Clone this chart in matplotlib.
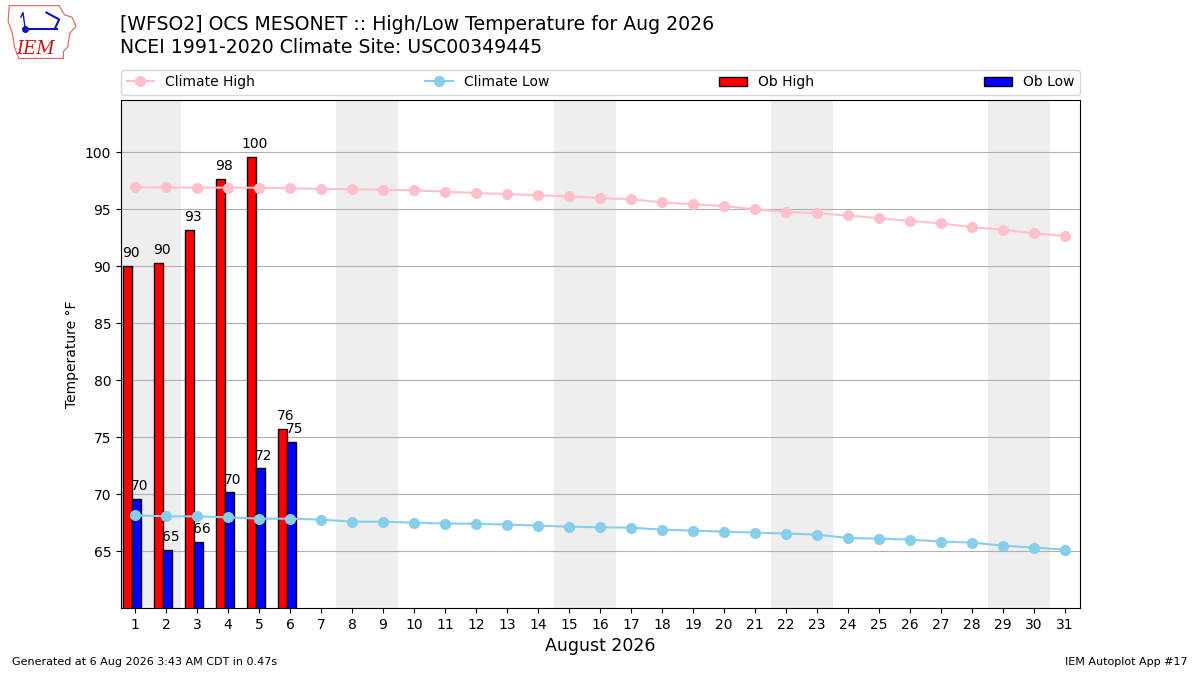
import numpy as np
import matplotlib
matplotlib.use("Agg")
import matplotlib.pyplot as plt
from matplotlib.patches import Polygon

days = list(range(1, 32))
ob_days = [1, 2, 3, 4, 5, 6]
ob_high = [90.06, 90.3, 93.2, 97.7, 99.6, 75.7]
ob_low = [69.6, 65.1, 65.8, 70.15, 72.25, 74.6]
high_labels = ["90", "90", "93", "98", "100", "76"]
low_labels = ["70", "65", "66", "70", "72", "75"]
clim_high = [96.93, 96.92, 96.91, 96.9, 96.9, 96.84, 96.8, 96.76, 96.72, 96.67,
             96.55, 96.43, 96.34, 96.23, 96.14, 95.99, 95.88, 95.61, 95.44, 95.29,
             95.0, 94.79, 94.65, 94.47, 94.21, 93.97, 93.77, 93.42, 93.21, 92.89, 92.66]
clim_low = [68.13, 68.05, 68.04, 67.96, 67.84, 67.84, 67.76, 67.58, 67.57, 67.49,
            67.41, 67.40, 67.32, 67.23, 67.14, 67.08, 67.05, 66.88, 66.79, 66.70,
            66.62, 66.53, 66.44, 66.14, 66.09, 66.0, 65.83, 65.74, 65.47, 65.30, 65.12]
weekend_starts = [1, 8, 15, 22, 29]
yticks = [65, 70, 75, 80, 85, 90, 95, 100]

fig = plt.figure(figsize=(12, 6.75), dpi=100)
ax = fig.add_axes([0.1008, 0.0993, 0.7992, 0.7526])

for d in weekend_starts:
    ax.axvspan(d - 0.5, d + 1.5, color="#eeeeee", zorder=0, lw=0)

od = np.array(ob_days, dtype=float)
ax.plot(days, clim_high, color="pink", marker="o", ms=7, lw=1.5, zorder=2,
        label="Climate High")
ax.plot(days, clim_low, color="skyblue", marker="o", ms=7, lw=1.5, zorder=2,
        label="Climate Low")
ax.bar(od - 0.25, ob_high, width=0.3, fc="r", ec="k", zorder=1, label="Ob High")
ax.bar(od + 0.05, ob_low, width=0.3, fc="b", ec="k", zorder=1, label="Ob Low")
for d, v, t in zip(od, ob_high, high_labels):
    ax.text(d - 0.13, v + 0.5, t, ha="center", va="bottom", fontsize=10, zorder=3)
for d, v, t in zip(od, ob_low, low_labels):
    ax.text(d + 0.16, v + 0.5, t, ha="center", va="bottom", fontsize=10, zorder=3)

ax.set_axisbelow(True)
ax.grid(axis="y", color="#b0b0b0", lw=0.8)
ax.set_xlim(0.55, 31.48)
ax.set_ylim(60.0, 104.6)
ax.set_xticks(days)
ax.set_yticks(yticks)
ax.tick_params(labelsize=10)
ax.set_xlabel("August 2026", fontsize=12.5)
ax.set_ylabel("Temperature °F", fontsize=10)

ax.legend(loc="lower left", bbox_to_anchor=(0, 1.01, 1, 0.05), mode="expand",
          ncol=4, fontsize=10, borderaxespad=0)

fig.text(0.1, 0.963, "[WFSO2] OCS MESONET :: High/Low Temperature for Aug 2026",
         fontsize=13.6, va="center", ha="left")
fig.text(0.1, 0.929, "NCEI 1991-2020 Climate Site: USC00349445",
         fontsize=13.6, va="center", ha="left")
fig.text(0.01, 0.015, "Generated at 6 Aug 2026 3:43 AM CDT in 0.47s", fontsize=8)
fig.text(0.99, 0.015, "IEM Autoplot App #17", fontsize=8, ha="right")

# simple IEM logo
lax = fig.add_axes([0.005, 0.91, 0.062, 0.085])
lax.set_xlim(0, 70)
lax.set_ylim(0, 50)
lax.axis("off")
iowa = [(3, 48), (50, 48), (55, 40), (62, 38), (66, 30), (60, 24), (58, 12),
        (54, 8), (54, 2), (12, 2), (8, 12), (6, 24), (2, 34), (3, 48)]
lax.add_patch(Polygon(iowa, closed=True, fill=False, ec="#e06060", lw=0.8))
lax.text(10, 6, "IEM", color="#cc1111", fontsize=13, family="DejaVu Serif",
         style="italic")
lax.plot([18, 48], [28, 28], color="#1010c0", lw=1.5)
lax.plot([18], [28], "o", color="#1010c0", ms=4)
lax.plot([38, 50, 46], [42, 36, 28], color="#1010c0", lw=1.5)
lax.plot([14, 16, 18], [38, 42, 28], color="#1010c0", lw=1.0)

fig.savefig("out.png", dpi=100)
